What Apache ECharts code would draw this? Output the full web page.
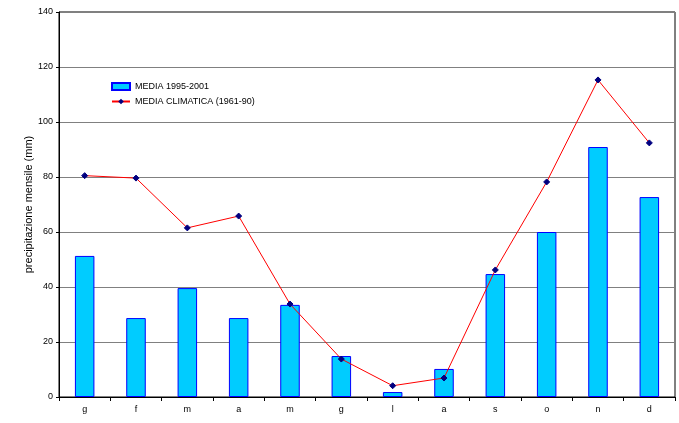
<!DOCTYPE html>
<html>
<head>
<meta charset="utf-8">
<title>precipitazione mensile</title>
<script src="https://cdn.jsdelivr.net/npm/echarts@6/dist/echarts.min.js"></script>
<style>
  html, body { margin: 0; padding: 0; background: #fff; }
</style>
</head>
<body>
<div id="chartmain" style="width:679px; height:423px;"></div>
<script type="text/javascript">
// mesi
var mesi = ['g', 'f', 'm', 'a', 'm', 'g', 'l', 'a', 's', 'o', 'n', 'd'];
// MEDIA 1995-2001 (barre)
var media9501 = [51.3, 28.7, 39.6, 28.7, 33.5, 14.9, 1.8, 10.2, 44.7, 60.0, 90.9, 72.7];
// MEDIA CLIMATICA 1961-90 (linea)
var mediaClima = [80.5, 79.6, 61.5, 65.8, 33.8, 13.8, 4.1, 6.9, 46.2, 78.2, 115.3, 92.4];

var font = 'Liberation Sans, Arial, sans-serif';

var myChart = echarts.init(document.getElementById('chartmain'));
var option = {
    animation: false,
    backgroundColor: '#fff',
    textStyle: { fontFamily: font },
    grid: {
        left: 59, right: 4, top: 12, bottom: 26,
        show: true, borderColor: '#000', borderWidth: 1
    },
    legend: {
        orient: 'vertical',
        left: 106, top: 77,
        itemWidth: 18, itemHeight: 7, itemGap: 6,
        textStyle: { fontFamily: font, fontSize: 9, color: '#000' },
        data: [
            { name: 'MEDIA 1995-2001', icon: 'rect' },
            { name: 'MEDIA CLIMATICA (1961-90)' }
        ]
    },
    xAxis: {
        type: 'category',
        data: mesi,
        boundaryGap: true,
        axisLine: { lineStyle: { color: '#000', width: 1 } },
        axisTick: { show: true, length: 4, interval: 0, lineStyle: { color: '#000' } },
        axisLabel: { color: '#000', fontSize: 9, margin: 8, fontFamily: font }
    },
    yAxis: {
        type: 'value',
        min: 0, max: 140, interval: 20,
        name: 'precipitazione mensile (mm)',
        nameLocation: 'middle',
        nameGap: 25,
        nameMoveOverlap: false,
        nameTextStyle: { color: '#000', fontSize: 11, fontFamily: font },
        axisLine: { show: true, lineStyle: { color: '#000', width: 1 } },
        axisTick: { show: true, length: 3, lineStyle: { color: '#000' } },
        axisLabel: { color: '#000', fontSize: 9, margin: 6, fontFamily: font },
        splitLine: { lineStyle: { color: '#808080', width: 1 } }
    },
    series: [
        {
            name: 'MEDIA 1995-2001',
            type: 'bar',
            data: media9501,
            barWidth: '38%',
            itemStyle: { color: '#00CCFF', borderColor: '#0000FF', borderWidth: 1 }
        },
        {
            name: 'MEDIA CLIMATICA (1961-90)',
            type: 'line',
            data: mediaClima,
            symbol: 'diamond',
            symbolSize: 6,
            lineStyle: { color: '#FF0000', width: 1 },
            itemStyle: { color: '#000080', borderColor: '#000080' }
        }
    ]
};
myChart.setOption(option);
</script>
</body>
</html>
